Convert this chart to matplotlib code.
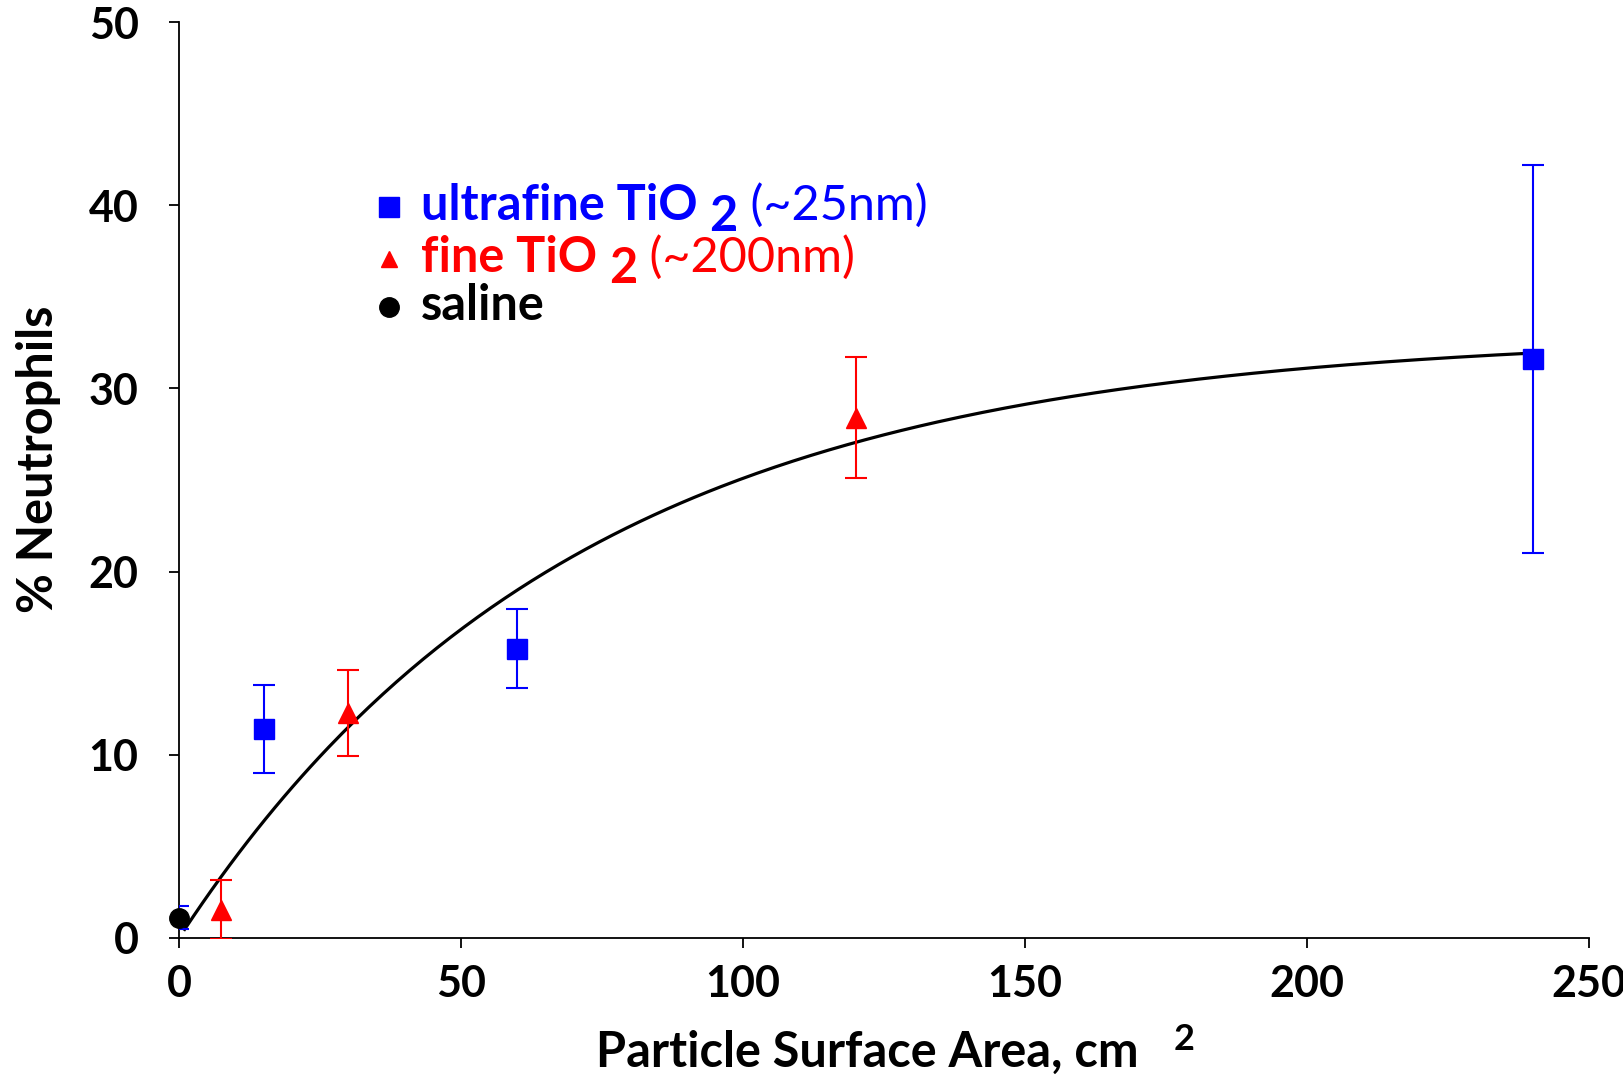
import numpy as np
import matplotlib
matplotlib.use("Agg")
import matplotlib.pyplot as plt

plt.rcParams["font.family"] = ["Lato", "DejaVu Sans"]

# data
uf_x = [15, 60, 240]
uf_y = [11.4, 15.8, 31.6]
uf_err = [2.4, 2.15, 10.6]

fine_x = [7.5, 30, 120]
fine_y = [1.55, 12.3, 28.4]
fine_err = [1.6, 2.35, 3.3]

saline_x = [0]
saline_y = [1.1]
saline_err = [0.63]

# fitted saturation curve y = A * (1 - exp(-x / k)), parameters
fit_amplitude = 33.0
fit_scale = 70.0
fit_range = (1, 240)

xticks = [0, 50, 100, 150, 200, 250]
yticks = [0, 10, 20, 30, 40, 50]

BLUE = "#0000ff"
RED = "#ff0000"
FS = 35
TICK_FS = 31

fig = plt.figure(figsize=(16.24, 10.80), dpi=100)
ax = fig.add_axes([0.1102, 0.1315, 0.8683, 0.8481])

xs = np.linspace(fit_range[0], fit_range[1], 300)
ax.plot(xs, fit_amplitude * (1 - np.exp(-xs / fit_scale)), color="black", lw=2.3, zorder=2)

ax.errorbar(saline_x, saline_y, yerr=saline_err, fmt="none", ecolor=BLUE,
            elinewidth=1.5, capsize=7, capthick=1.5, zorder=3)
ax.errorbar(uf_x, uf_y, yerr=uf_err, fmt="s", color=BLUE, ms=14,
            elinewidth=1.5, capsize=8, capthick=1.5, zorder=4)
ax.errorbar(fine_x, fine_y, yerr=fine_err, fmt="^", color=RED, ms=14,
            elinewidth=1.5, capsize=8, capthick=1.5, zorder=4)
ax.plot(saline_x, saline_y, "o", color="black", ms=14, zorder=5, clip_on=False)

ax.set_xlim(0, 250)
ax.set_ylim(0, 50)
ax.set_xticks(xticks)
ax.set_yticks(yticks)
for s in ("top", "right"):
    ax.spines[s].set_visible(False)
for s in ("left", "bottom"):
    ax.spines[s].set_linewidth(1.3)
ax.tick_params(direction="out", length=7, width=1.3, labelsize=TICK_FS)
ax.tick_params(axis="x", pad=12)
ax.tick_params(axis="y", pad=22)
for lab in ax.get_xticklabels() + ax.get_yticklabels():
    lab.set_fontweight("bold")

fig.text(0.024, 0.575, "% Neutrophils", rotation=90, ha="center", va="center",
         fontsize=FS, fontweight="bold")
fig.text(0.534, 0.012, "Particle Surface Area, cm", ha="center", va="baseline",
         fontsize=FS, fontweight="bold")
fig.text(0.729, 0.028, "2", ha="center", va="baseline", fontsize=26, fontweight="bold")

# legend built from text pieces
fig.canvas.draw()
renderer = fig.canvas.get_renderer()
legend_rows = [
    ("s", BLUE, [("ultrafine TiO ", "bold", 0), ("2", "bold", -11), (" (~25nm)", "normal", 0)]),
    ("^", RED, [("fine TiO ", "bold", 0), ("2", "bold", -11), (" (~200nm)", "normal", 0)]),
    ("o", "black", [("saline", "bold", 0)]),
]
row_y = [1080 - 220, 1080 - 272, 1080 - 320]
for (marker, color, pieces), y0 in zip(legend_rows, row_y):
    fig.add_artist(plt.Line2D([389 / 1624], [(y0 + 13) / 1080], marker=marker, color=color,
                              ms=14 if marker != "^" else 12, ls="none",
                              transform=fig.transFigure))
    x = 421
    for txt, weight, dy in pieces:
        t = fig.text(x / 1624, (y0 + dy) / 1080, txt, color=color, fontsize=FS,
                     fontweight=weight, ha="left", va="baseline")
        bb = t.get_window_extent(renderer)
        x += bb.width

fig.savefig("out.png", dpi=100)
